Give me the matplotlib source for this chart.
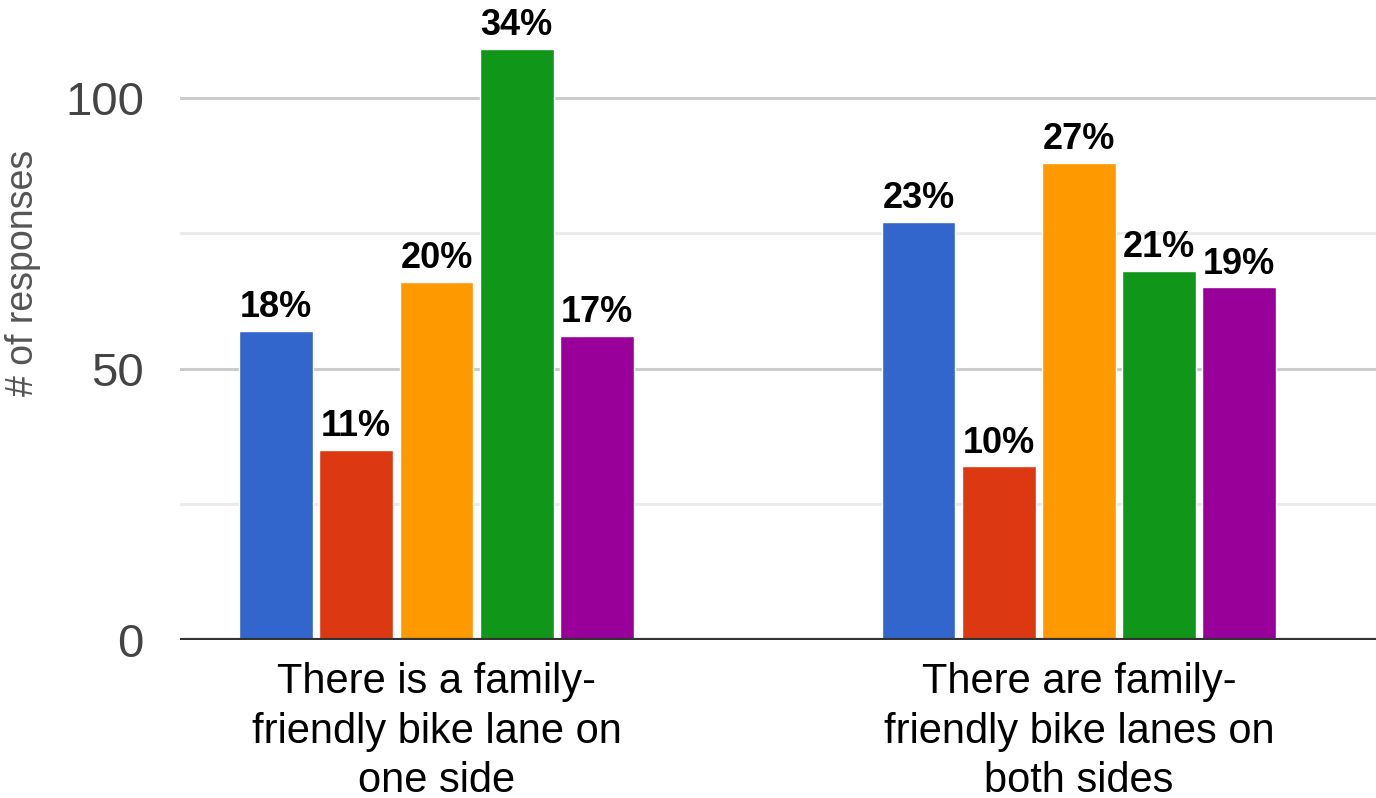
import numpy as np
import matplotlib.pyplot as plt

plt.rcParams['font.family'] = ['Liberation Sans', 'DejaVu Sans']

# Data -----------------------------------------------------------------
categories = ['There is a family-\nfriendly bike lane on\none side',
              'There are family-\nfriendly bike lanes on\nboth sides']
series_colors = ['#3366cc', '#dc3912', '#ff9900', '#109618', '#990099']
counts = [
    [57, 35, 66, 109, 56],   # one side
    [77, 32, 88, 68, 65],    # both sides
]
pct_labels = [
    ['18%', '11%', '20%', '34%', '17%'],
    ['23%', '10%', '27%', '21%', '19%'],
]

# Figure ---------------------------------------------------------------
fig = plt.figure(figsize=(13.76, 7.98), dpi=100)
ax = fig.add_axes([180 / 1376, 158 / 798, 1196 / 1376, 640 / 798])

x = np.arange(len(categories))
n_series = len(series_colors)
pitch = 0.1248
width = 0.115

for g in range(len(categories)):
    for i in range(n_series):
        xi = x[g] + (i - (n_series - 1) / 2) * pitch
        val = counts[g][i]
        ax.bar(xi, val, width=width, color=series_colors[i],
               edgecolor='white', linewidth=1, zorder=3)
        ax.annotate(pct_labels[g][i], (xi, val), xytext=(0, 10),
                    textcoords='offset points', ha='center', va='baseline',
                    fontsize=26, fontweight='bold', color='black', zorder=4)

# Axes styling ---------------------------------------------------------
ax.set_xlim(-0.3992, 1.4625)
ax.set_ylim(0, 118)
ax.set_yticks([0, 50, 100])
ax.set_yticks([25, 75], minor=True)
ax.grid(axis='y', which='major', color='#cccccc', linewidth=2.2, zorder=0)
ax.grid(axis='y', which='minor', color='#ebebeb', linewidth=2.2, zorder=0)
ax.axhline(0, color='#333333', linewidth=3, zorder=5)

for s in ax.spines.values():
    s.set_visible(False)

ax.set_xticks(x)
ax.set_xticklabels(categories, fontsize=30, linespacing=1.3)
ax.tick_params(axis='x', length=0, pad=16)
ax.tick_params(axis='y', which='both', length=0, pad=26,
               labelsize=34, labelcolor='#444444')

ax.set_ylabel('# of responses', fontsize=27, color='#555555')
ax.yaxis.set_label_coords(-0.1162, 0.573)

fig.savefig('out.png', dpi=100)
